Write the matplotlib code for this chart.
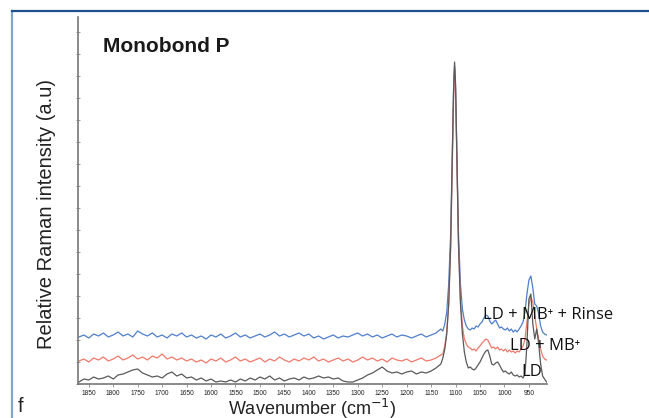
import matplotlib.pyplot as plt
import numpy as np
from matplotlib.lines import Line2D

# wavenumber sampling (cm-1)
wn_flat = np.arange(1870, 1129, -10)
wn_peak = np.array([1126, 1122, 1118, 1114, 1110, 1107, 1104, 1102, 1100, 1097, 1094, 1090, 1086, 1082, 1078, 1074])
wn_tail = np.arange(1070, 913, -4)
wavenumber = np.concatenate([wn_flat, wn_peak, wn_tail])

# LD
ld_flat = [2, 5, 4, 7, 5, 6, 8, 5, 9, 10,
           12, 14, 15, 11, 9, 7, 8, 6, 10, 12,
           8, 10, 6, 7, 4, 6, 3, 5, 2, 3,
           2, 4, 2, 5, 3, 6, 4, 7, 5, 8,
           4, 6, 3, 5, 6, 4, 7, 5, 6, 8,
           6, 7, 5, 6, 3, 2, 2, 4, 6, 9,
           11, 14, 17, 13, 11, 12, 10, 12, 13, 10,
           12, 11, 13, 16, 20]
ld_peak = [26, 35, 50, 80, 140, 220, 295, 322, 300, 220, 140, 80, 50, 32, 22, 16]
ld_tail = [17, 15, 14, 16, 19, 22, 26, 30, 33, 34,
           28, 20, 19, 21, 22, 19, 15, 12, 13, 11,
           10, 12, 9, 8, 9, 7, 8, 6, 10, 40,
           85, 90, 60, 45, 55, 40, 20, 8, 5, 2]

# LD + MB+
mb_flat = [23, 25, 22, 26, 24, 27, 23, 25, 28, 24,
           26, 29, 25, 27, 24, 28, 26, 30, 25, 27,
           24, 26, 23, 25, 22, 24, 21, 25, 23, 26,
           22, 24, 27, 23, 25, 22, 24, 26, 22, 25,
           23, 27, 24, 22, 25, 23, 26, 24, 27, 23,
           25, 22, 24, 26, 23, 25, 22, 24, 27, 24,
           26, 23, 25, 22, 26, 24, 23, 25, 22, 24,
           26, 23, 24, 26, 29]
mb_peak = [30, 38, 52, 80, 135, 210, 285, 316, 292, 215, 140, 85, 58, 45, 40, 37]
mb_tail = [36, 34, 35, 33, 36, 38, 41, 43, 45, 44,
           40, 36, 37, 35, 37, 34, 35, 33, 35, 32,
           34, 32, 33, 31, 33, 32, 35, 38, 45, 62,
           80, 87, 82, 68, 55, 45, 35, 28, 25, 24]

# LD + MB+ + Rinse
rinse_flat = [47, 49, 46, 50, 48, 51, 47, 49, 52, 48,
              50, 47, 53, 50, 48, 51, 47, 49, 46, 50,
              48, 51, 47, 49, 46, 48, 45, 49, 47, 50,
              46, 48, 51, 47, 49, 46, 48, 50, 47, 49,
              52, 48, 50, 47, 49, 51, 48, 50, 46, 48,
              45, 47, 49, 46, 48, 47, 49, 51, 48, 50,
              47, 49, 46, 48, 50, 47, 49, 48, 46, 48,
              50, 47, 49, 51, 55]
rinse_peak = [53, 60, 72, 100, 150, 225, 295, 318, 298, 225, 150, 100, 75, 64, 58, 55]
rinse_tail = [54, 56, 55, 58, 57, 60, 62, 66, 69, 68,
              63, 60, 62, 64, 60, 56, 57, 55, 54, 56,
              53, 55, 52, 54, 52, 55, 58, 62, 72, 90,
              104, 108, 96, 80, 78, 70, 58, 52, 50, 49]

ld = np.array(ld_flat + ld_peak + ld_tail)
ld_mb = np.array(mb_flat + mb_peak + mb_tail)
ld_mb_rinse = np.array(rinse_flat + rinse_peak + rinse_tail)

tick_values = [1850, 1800, 1750, 1700, 1650, 1600, 1550, 1500, 1450, 1400,
               1350, 1300, 1250, 1200, 1150, 1100, 1050, 1000, 950]

W, H = 649, 418
fig = plt.figure(figsize=(W / 100, H / 100), dpi=100)
ax = fig.add_axes([78 / W, 1 - 384 / H, (547 - 78) / W, (384 - 17) / H])

ax.plot(wavenumber, ld_mb_rinse, color="#4f7fcc", lw=0.9)
ax.plot(wavenumber, ld_mb, color="#f0796a", lw=0.9)
ax.plot(wavenumber, ld, color="#5a5a5a", lw=0.9)

ax.set_xlim(1872, 913)
ax.set_ylim(0, 367)
ax.set_xticks(tick_values)
ax.set_xticklabels([str(v) for v in tick_values],
                   fontsize=4.8, color="#222222", family="Liberation Sans")
ax.set_yticks(np.arange(0, 360, 22))
ax.set_yticklabels([])
ax.tick_params(axis="x", length=2.5, width=0.6, color="#888888", pad=2)
ax.tick_params(axis="y", direction="inout", length=3, width=0.6, color="#888888")
for s in ["top", "right"]:
    ax.spines[s].set_visible(False)
for s in ["left", "bottom"]:
    ax.spines[s].set_color("#777777")
    ax.spines[s].set_linewidth(1.2)

ann_font = ["Open Sans", "DejaVu Sans"]
ax.text(1044, 69, "LD + MB\u207a + Rinse", fontsize=12, va="center", family=ann_font,
        fontweight="medium", color="#111111")
ax.text(989, 38, "LD + MB\u207a", fontsize=12, va="center", family=ann_font,
        fontweight="medium", color="#111111")
ax.text(965, 12, "LD", fontsize=12, va="center", family=ann_font,
        fontweight="medium", color="#111111")

fig.text(103 / W, 1 - 47 / H, "Monobond P", fontsize=15, fontweight="bold",
         family="Liberation Sans", va="center", ha="left", color="#1a1a1a")
fig.text(47 / W, 1 - 214 / H, "Relative Raman intensity (a.u)", rotation=90,
         fontsize=14.5, family="Liberation Sans", va="center", ha="center", color="#222222")
fig.text(312 / W, 1 - 409 / H, "Wavenumber (cm$^{-1}$)", fontsize=13,
         family="Liberation Sans", va="center", ha="center", color="#222222")
fig.text(18 / W, 1 - 406 / H, "f", fontsize=14.5, family="Liberation Sans",
         va="center", ha="left", color="#222222")

# panel border (left and top edges visible)
fig.add_artist(Line2D([12 / W, 12 / W], [0, 1 - 11 / H], color="#7ea6cf", lw=1.6))
fig.add_artist(Line2D([12 / W, 1], [1 - 11 / H, 1 - 11 / H], color="#1d4f8c", lw=1.6))

fig.savefig("out.png", dpi=100)
